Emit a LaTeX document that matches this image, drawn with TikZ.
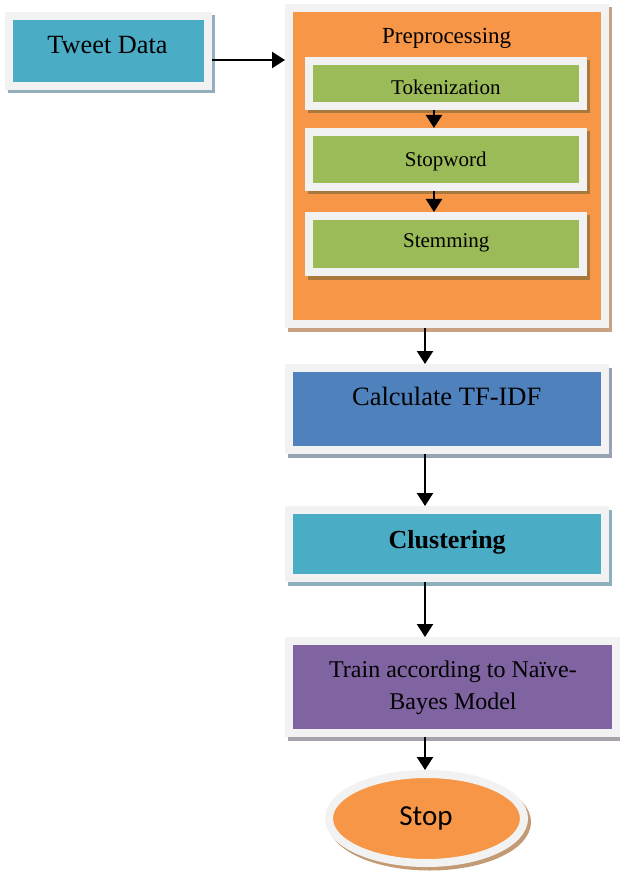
\documentclass[tikz,border=0pt]{standalone}
\usepackage{fontspec}
\setmainfont{Liberation Serif}
\newfontfamily\stopfont{Carlito}
\usetikzlibrary{shadows,arrows.meta,shapes.geometric}

\definecolor{frame}{HTML}{F2F2F2}
\definecolor{cyanfill}{HTML}{4BACC6}
\definecolor{orangefill}{HTML}{F79646}
\definecolor{greenfill}{HTML}{9BBB59}
\definecolor{bluefill}{HTML}{4F81BD}
\definecolor{purplefill}{HTML}{8064A2}
\definecolor{cyanshadow}{HTML}{93AFBC}
\definecolor{tanshadow}{HTML}{C9A183}
\definecolor{greenshadow}{HTML}{A8783C}
\definecolor{blueshadow}{HTML}{96A3B5}
\definecolor{clusshadow}{HTML}{8DB0BD}
\definecolor{purpleshadow}{HTML}{A7A2AC}
\definecolor{stopshadow}{HTML}{C29A73}

\begin{document}
\begin{tikzpicture}[x=1pt,y=-1pt,
  box/.style={rectangle, draw=frame, line width=8pt, inner sep=0pt},
  oval/.style={ellipse, draw=frame, line width=8pt, inner sep=0pt},
  shade/.style={drop shadow={shadow xshift=3pt, shadow yshift=-3.5pt,
      fill=#1, draw=#1, line width=8pt, opacity=1}},
  lbl/.style={inner sep=0pt, text=black},
  arr/.style={line width=2.3pt, -{Triangle[length=13pt,width=16pt]}}]

\useasboundingbox (0,0) rectangle (619,874);

% columns and rows the connectors run along
\coordinate (rowA) at (0,60);
\coordinate (colA) at (434,0);
\coordinate (colB) at (425,0);

% input
\node[box, fill=cyanfill, shade=cyanshadow, minimum width=199, minimum height=70] (tweet) at (108.5,51) {};
\node[lbl, font=\fontsize{26.3}{30}\selectfont] (tweetlbl) at (107.5,45.5) {Tweet Data};

% preprocessing block with its three steps
\node[box, fill=orangefill, shade=tanshadow, minimum width=316, minimum height=316] (pre) at (447,166) {};
\node[lbl, font=\fontsize{23}{27}\selectfont] (prelbl) at (446.7,38.6) {Preprocessing};

\node[box, fill=greenfill, shade=greenshadow, minimum width=274, minimum height=45] (tok) at (446,83.5) {};
\node[lbl, font=\fontsize{21}{25}\selectfont] (toklbl) at (445.8,87.1) {Tokenization};

\node[box, fill=greenfill, shade=greenshadow, minimum width=274, minimum height=55] (stopw) at (446,159.5) {};
\node[lbl, font=\fontsize{21}{25}\selectfont] (stopwlbl) at (445.8,161.2) {Stopword};

\node[box, fill=greenfill, shade=greenshadow, minimum width=274, minimum height=56] (stem) at (446,244) {};
\node[lbl, font=\fontsize{21}{25}\selectfont] (stemlbl) at (446.3,243.2) {Stemming};

% TF-IDF
\node[box, fill=bluefill, shade=blueshadow, minimum width=316, minimum height=82] (tfidf) at (447,409) {};
\node[lbl, font=\fontsize{26.5}{30}\selectfont] (tfidflbl) at (446.7,396) {Calculate TF-IDF};

% clustering
\node[box, fill=cyanfill, shade=clusshadow, minimum width=316, minimum height=68] (clus) at (447,544) {};
\node[lbl, font=\fontsize{26}{30}\selectfont\bfseries] (cluslbl) at (447.2,541.9) {Clustering};

% training
\node[box, fill=purplefill, shade=purpleshadow, minimum width=327, minimum height=92] (train) at (452.5,687) {};
\node[lbl, font=\fontsize{24}{32}\selectfont, align=center] (trainlbl) at (453,687.4) {Train according to Naïve-\\Bayes Model};

% end
\node[oval, fill=orangefill, shade=stopshadow, minimum width=195, minimum height=89] (stop) at (426.5,818.5) {};
\node[lbl, font=\stopfont\fontsize{29}{33}\selectfont] (stoplbl) at (426,818.5) {Stop};

% connectors
\draw[arr] (tweet.east |- rowA) -- (pre.west |- rowA);
\draw[arr] (tok.south -| colA) -- (stopw.north -| colA);
\draw[arr] (stopw.south -| colA) -- (stem.north -| colA);
\draw[arr] (pre.south -| colB) -- (tfidf.north -| colB);
\draw[arr] (tfidf.south -| colB) -- (clus.north -| colB);
\draw[arr] (clus.south -| colB) -- (train.north -| colB);
\draw[arr] (train.south -| colB) -- (stop.north -| colB);
\end{tikzpicture}
\end{document}
